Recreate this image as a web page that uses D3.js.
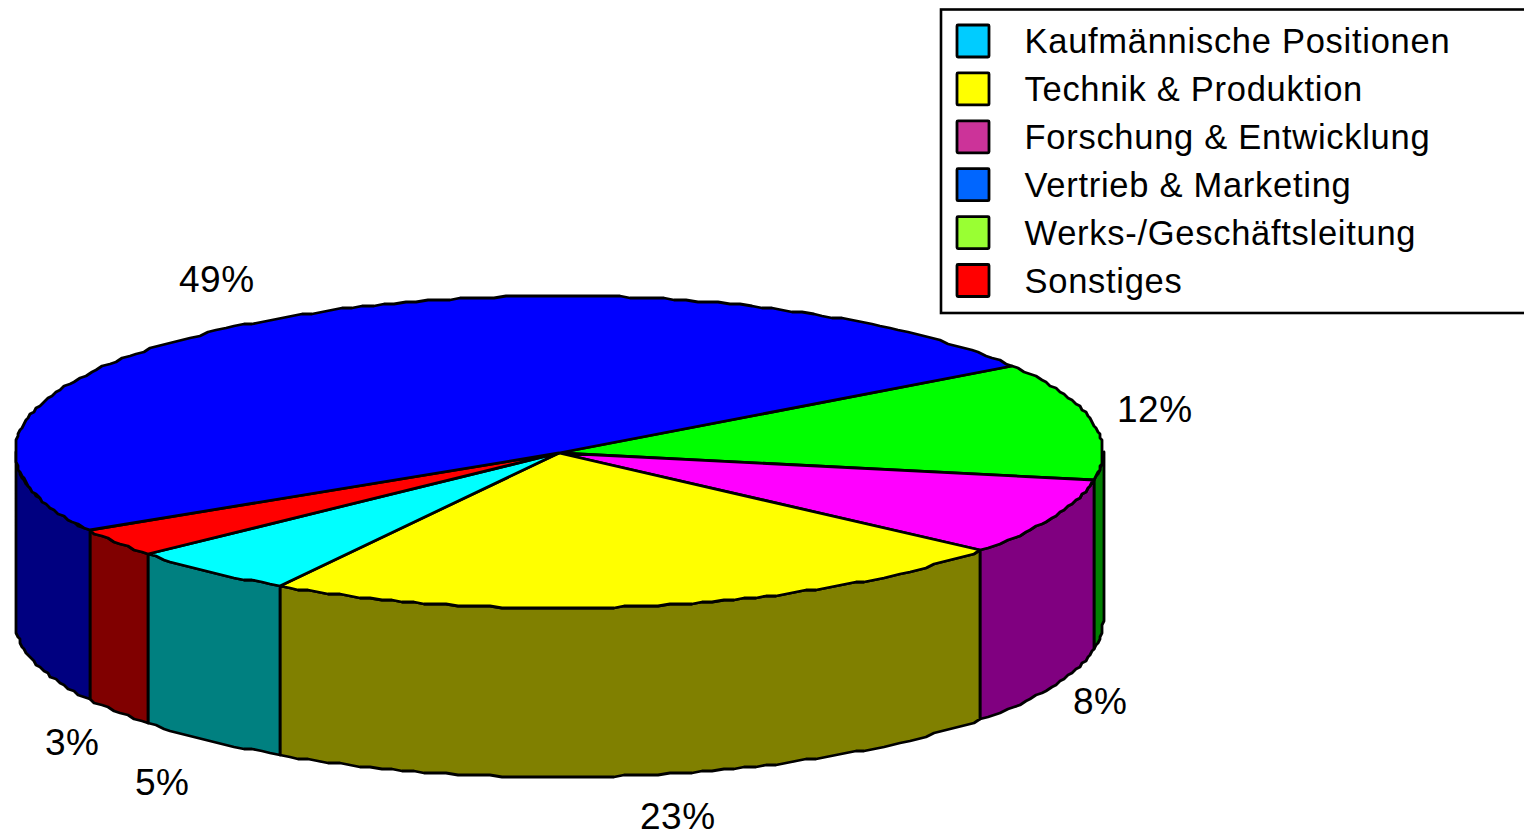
<!DOCTYPE html>
<html><head><meta charset="utf-8"><script src="https://cdn.jsdelivr.net/npm/d3@7"></script>
<style>html,body{margin:0;padding:0;background:#fff}svg{display:block;font-family:"Liberation Sans",Arial,sans-serif}</style></head>
<body><svg id="c" width="1524" height="832"></svg>
<script>
// Data
const sliceNames = ["Werks-/Geschäftsleitung","Forschung & Entwicklung","Technik & Produktion","Kaufmännische Positionen","Sonstiges","Vertrieb & Marketing"];
const sliceValues = [12.1,8.1,22.7,5,3,49.1];
const sliceTops = ["#00ff00","#ff00ff","#ffff00","#00ffff","#ff0000","#0000ff"];
const sliceSides = ["#008000","#800080","#808000","#008080","#800000","#000080"];
const legendNames = ["Kaufmännische Positionen","Technik & Produktion","Forschung & Entwicklung","Vertrieb & Marketing","Werks-/Geschäftsleitung","Sonstiges"];
const legendColors = ["#00ccff","#ffff00","#cc3399","#0066ff","#99ff33","#ff0000"];

const svg = d3.select("#c");
const TAU = Math.PI*2, deg = Math.PI/180;
const cx=559, cy=452, rx=544, ry=156, depth=169, apexY=453, grid=2;
const sx = d3.scaleLinear().domain([-1,1]).range([cx-rx,cx+rx]);
const sy = d3.scaleLinear().domain([-1,1]).range([cy-ry,cy+ry]);
const snap = v => Math.round(v/grid)*grid;
const pt = (a,dy=0) => [snap(sx(Math.sin(a))), snap(sy(-Math.cos(a)))+dy];
const arcPts = (a0,a1,dy=0) => {
  const n = Math.max(2,Math.ceil((a1-a0)/(1.2*deg)));
  return d3.range(n+1).map(i=>pt(a0+(a1-a0)*i/n,dy));
};
const line = d3.line();
const start = 56.5*deg;
const pie = d3.pie().sort(null).value(d=>d.v).startAngle(start).endAngle(start+TAU);
const arcs = pie(sliceValues.map((v,i)=>({v,i})));
const gSide = svg.append("g"), gTop = svg.append("g");
const applyS = s => s.attr("stroke","#000").attr("stroke-width",2.8).attr("stroke-linejoin","round");

// sides (front half only)
arcs.forEach(d=>{
  const a0=Math.max(d.startAngle,90*deg), a1=Math.min(d.endAngle,270*deg);
  if(a1<=a0) return;
  const pts=[...arcPts(a0,a1),...arcPts(a0,a1,depth).reverse()];
  applyS(gSide.append("path").attr("d",line(pts)+"Z").attr("fill",sliceSides[d.data.i]));
});
// tops
arcs.forEach(d=>{
  const pts=[[cx,apexY],...arcPts(d.startAngle,d.endAngle)];
  applyS(gTop.append("path").attr("d",line(pts)+"Z").attr("fill",sliceTops[d.data.i]));
});
// percent labels
const labelAt = [[1117,422],[1073,714],[640,829],[135,795],[45,755],[179,292]];
arcs.forEach((d,i)=>{
  svg.append("text").attr("x",labelAt[i][0]).attr("y",labelAt[i][1]).attr("font-size",37).attr("letter-spacing",0.5).attr("fill","#000")
   .text(Math.round(d.data.v)+"%");
});
// legend
const legend = svg.append("g");
legend.append("rect").attr("x",941).attr("y",9.5).attr("width",600).attr("height",303.5).attr("fill","#fff").attr("stroke","#000").attr("stroke-width",2.6);
const rowY = d3.scalePoint().domain(legendNames).range([41,280.5]);
legendNames.forEach((n,i)=>{
  const y=rowY(n);
  legend.append("rect").attr("x",957).attr("y",y-16).attr("width",32).attr("height",32).attr("rx",1).attr("fill",legendColors[i]).attr("stroke","#000").attr("stroke-width",2.8);
  legend.append("text").attr("x",1024.5).attr("y",y+12).attr("font-size",34.5).attr("letter-spacing",0.72).attr("fill","#000").text(n);
});
</script></body></html>
